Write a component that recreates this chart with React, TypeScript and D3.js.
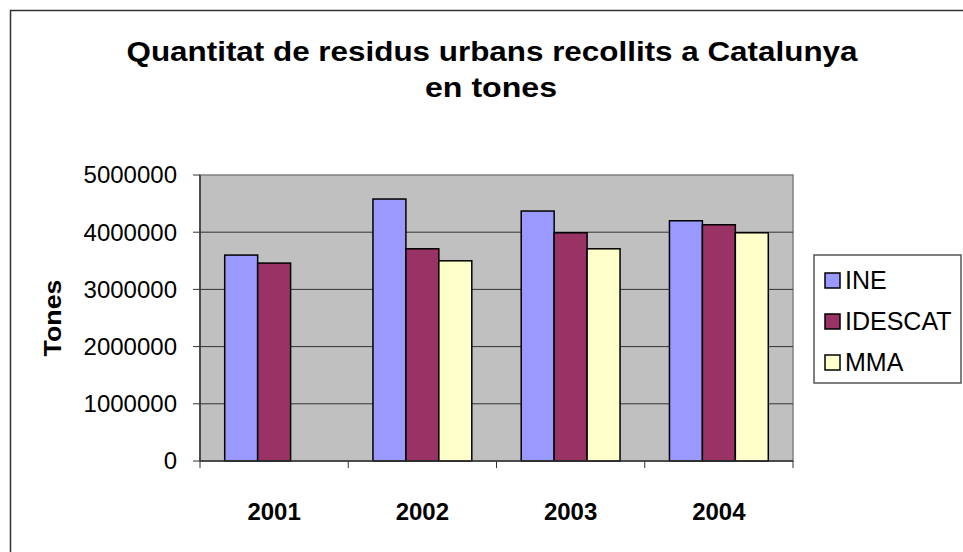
import React from "react";
import * as d3 from "d3";

// chart values
const years = ["2001", "2002", "2003", "2004"];
const seriesNames = ["INE", "IDESCAT", "MMA"];
const ineValues = [3600000, 4580000, 4370000, 4200000];
const idescatValues = [3460000, 3710000, 3990000, 4130000];
const mmaValues = [null, 3500000, 3710000, 3990000];
const yTicks = [0, 1000000, 2000000, 3000000, 4000000, 5000000];
const seriesColors = ["#9999FF", "#993366", "#FFFFCC"];

const W = 963;
const H = 552;
const font = "'Liberation Sans', Arial, Helvetica, sans-serif";

export default function App() {
  const plot = { left: 200, right: 793, top: 175, bottom: 461 };
  const values = [ineValues, idescatValues, mmaValues];

  const x = d3.scaleBand().domain(years).range([plot.left, plot.right]).padding(0);
  const xInner = d3
    .scaleBand()
    .domain(seriesNames)
    .range([0, x.bandwidth()])
    .paddingInner(0)
    .paddingOuter(0.75);
  const y = d3.scaleLinear().domain([0, 5000000]).range([plot.bottom, plot.top]);

  const boundaries = [plot.left, ...years.map((yr) => (x(yr) as number) + x.bandwidth())];

  return (
    <svg
      width={W}
      height={H}
      style={{ position: "absolute", left: 0, top: 0, display: "block", background: "#fff" }}
      fontFamily={font}
    >
      {/* chart area frame, runs off the right and bottom */}
      <rect x={10.5} y={10.5} width={W + 20} height={H + 20} fill="#fff" stroke="#333" strokeWidth={1.5} />

      {/* title (the original text is drawn a bit wide) */}
      <text
        x={492}
        y={61}
        textAnchor="middle"
        fontSize={28}
        fontWeight="bold"
        textLength={731}
        lengthAdjust="spacingAndGlyphs"
      >
        Quantitat de residus urbans recollits a Catalunya
      </text>
      <text
        x={491}
        y={97}
        textAnchor="middle"
        fontSize={28}
        fontWeight="bold"
        textLength={132}
        lengthAdjust="spacingAndGlyphs"
      >
        en tones
      </text>

      {/* plot background */}
      <rect
        x={plot.left}
        y={plot.top}
        width={plot.right - plot.left}
        height={plot.bottom - plot.top}
        fill="#C0C0C0"
        stroke="#808080"
        strokeWidth={1.5}
      />

      {/* gridlines */}
      {yTicks.slice(1, -1).map((t) => (
        <line key={t} x1={plot.left} x2={plot.right} y1={y(t)} y2={y(t)} stroke="#333" strokeWidth={1} />
      ))}

      {/* bars */}
      {seriesNames.map((name, si) =>
        years.map((yr, i) => {
          const v = values[si][i];
          if (v == null) return null;
          return (
            <rect
              key={name + yr}
              x={(x(yr) as number) + (xInner(name) as number)}
              y={y(v)}
              width={xInner.bandwidth()}
              height={y(0) - y(v)}
              fill={seriesColors[si]}
              stroke="#000"
              strokeWidth={1.5}
            />
          );
        })
      )}

      {/* y axis */}
      <line x1={plot.left} x2={plot.left} y1={plot.top} y2={plot.bottom} stroke="#333" strokeWidth={1.5} />
      {yTicks.map((t) => (
        <g key={t}>
          <line x1={plot.left - 7} x2={plot.left} y1={y(t)} y2={y(t)} stroke="#333" strokeWidth={1} />
          <text x={177} y={y(t)} dy="0.35em" textAnchor="end" fontSize={24}>
            {t}
          </text>
        </g>
      ))}

      {/* x axis */}
      <line x1={plot.left} x2={plot.right} y1={plot.bottom} y2={plot.bottom} stroke="#333" strokeWidth={1.5} />
      {boundaries.map((bx, i) => (
        <line key={i} x1={bx} x2={bx} y1={plot.bottom} y2={plot.bottom + 7} stroke="#333" strokeWidth={1} />
      ))}
      {years.map((yr) => (
        <text
          key={yr}
          x={(x(yr) as number) + x.bandwidth() / 2}
          y={520}
          textAnchor="middle"
          fontSize={24}
          fontWeight="bold"
        >
          {yr}
        </text>
      ))}

      {/* y axis title */}
      <text
        transform={`translate(61, ${(plot.top + plot.bottom) / 2}) rotate(-90)`}
        textAnchor="middle"
        fontSize={24}
        fontWeight="bold"
        textLength={77}
        lengthAdjust="spacingAndGlyphs"
      >
        Tones
      </text>

      {/* legend */}
      <rect x={814} y={255} width={147} height={128} fill="#fff" stroke="#555" strokeWidth={1.5} />
      {seriesNames.map((name, i) => {
        const cy = 280 + i * 41;
        return (
          <g key={name}>
            <rect x={825} y={cy - 7} width={15} height={15} fill={seriesColors[i]} stroke="#000" strokeWidth={1.5} />
            <text x={845} y={cy} dy="0.35em" fontSize={25}>
              {name}
            </text>
          </g>
        );
      })}
    </svg>
  );
}
